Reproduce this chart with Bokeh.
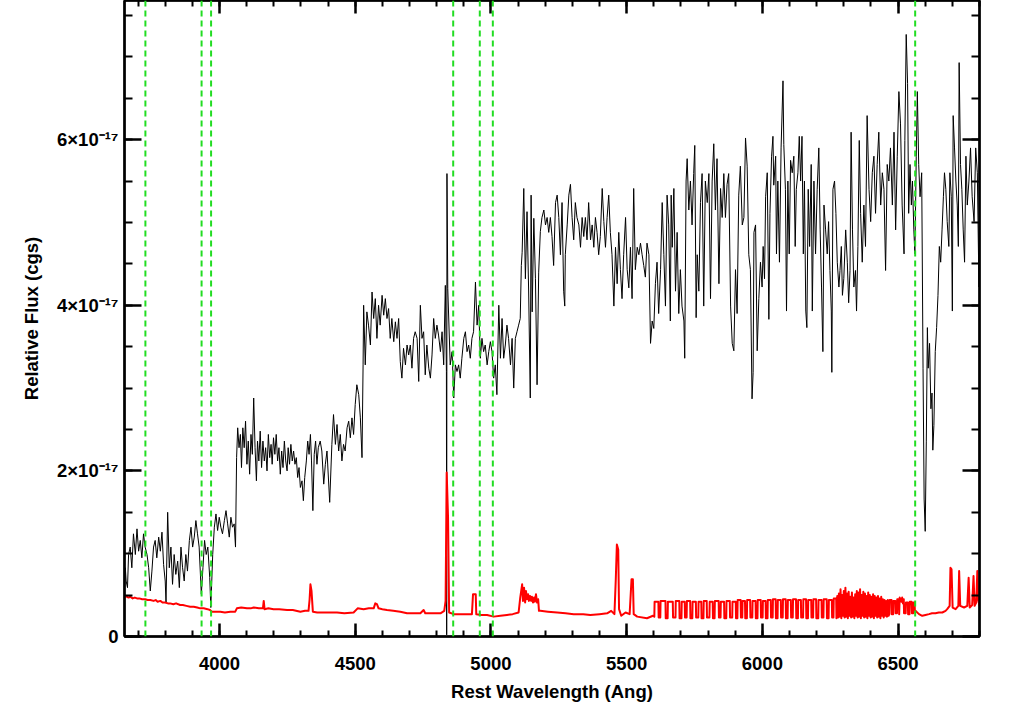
from bokeh.plotting import figure
from bokeh.models import Range1d, LinearAxis, FixedTicker, Span
from bokeh.embed import file_html
from bokeh.resources import INLINE

# ---------------- data (flux in units of 1e-17 cgs) ----------------
# black spectrum, segment 1 (3650-4364 A)
wave_obs_1 = [
    3650, 3653, 3656, 3661, 3665, 3671, 3677, 3683, 3690, 3696,
    3702, 3708, 3714, 3720, 3726, 3733, 3739, 3745, 3751, 3757,
    3763, 3769, 3776, 3782, 3788, 3794, 3800, 3803, 3809, 3815,
    3821, 3827, 3833, 3839, 3846, 3852, 3858, 3864, 3870, 3876,
    3882, 3889, 3895, 3901, 3907, 3913, 3919, 3925, 3933, 3939,
    3945, 3951, 3957, 3964, 3968, 3975, 3981, 3987, 3993, 3999,
    4005, 4011, 4018, 4024, 4030, 4036, 4042, 4048, 4054, 4059,
    4063, 4067, 4072, 4077, 4081, 4086, 4091, 4096, 4101, 4106,
    4111, 4116, 4121, 4126, 4131, 4136, 4140, 4145, 4150, 4155,
    4160, 4165, 4170, 4175, 4180, 4185, 4190, 4194, 4199, 4204,
    4209, 4214, 4219, 4224, 4229, 4234, 4239, 4244, 4249, 4253,
    4258, 4263, 4268, 4273, 4278, 4283, 4288, 4293, 4298, 4304,
    4309, 4314, 4320, 4325, 4330, 4335, 4339, 4344, 4349, 4354,
    4359, 4364,
]
flux_obs_1 = [
    0.59, 0.83, 0.67, 0.59, 0.99, 1.08, 0.83, 1.24, 0.99, 1.30,
    1.03, 1.16, 0.95, 1.24, 1.08, 0.99, 0.83, 0.55, 0.79, 1.08,
    1.16, 0.95, 1.20, 1.03, 1.26, 0.87, 0.67, 0.41, 1.50, 0.83,
    1.08, 0.63, 0.99, 0.75, 0.91, 0.59, 1.08, 0.83, 0.67, 0.99,
    0.79, 1.16, 1.32, 1.08, 1.20, 1.40, 1.24, 1.08, 0.51, 0.83,
    1.16, 0.99, 1.08, 0.71, 0.35, 0.99, 1.32, 1.48, 1.28, 1.44,
    1.32, 1.24, 1.40, 1.52, 1.36, 1.20, 1.44, 1.32, 1.36, 1.08,
    2.16, 2.52, 2.28, 2.44, 2.04, 2.52, 2.28, 2.60, 2.08, 2.36,
    1.96, 2.44, 2.20, 2.88, 2.28, 1.88, 2.36, 2.12, 2.48, 2.04,
    2.36, 2.12, 2.28, 2.00, 2.44, 2.16, 2.32, 2.08, 2.40, 2.20,
    2.44, 2.12, 2.28, 1.96, 2.24, 2.04, 2.36, 2.12, 2.00, 2.28,
    2.08, 2.32, 2.12, 2.24, 2.08, 2.16, 1.92, 2.04, 1.80, 1.88,
    1.64, 1.92, 2.12, 2.36, 2.20, 2.44, 2.12, 1.52, 2.20, 2.36,
    2.08, 2.28,
]
# black spectrum, segment 2 (4371-5182 A)
wave_obs_2 = [
    4371, 4377, 4384, 4390, 4396, 4406, 4414, 4420, 4427, 4433,
    4439, 4445, 4451, 4457, 4463, 4470, 4476, 4482, 4488, 4494,
    4500, 4506, 4513, 4519, 4525, 4529, 4531, 4537, 4543, 4549,
    4556, 4562, 4568, 4574, 4580, 4586, 4592, 4599, 4605, 4611,
    4617, 4623, 4629, 4635, 4642, 4648, 4654, 4660, 4666, 4672,
    4678, 4685, 4691, 4697, 4703, 4709, 4715, 4721, 4728, 4734,
    4740, 4746, 4752, 4758, 4764, 4771, 4777, 4783, 4789, 4795,
    4801, 4807, 4814, 4820, 4826, 4832, 4836, 4837, 4838, 4841,
    4850, 4857, 4863, 4869, 4875, 4881, 4887, 4893, 4900, 4906,
    4912, 4918, 4924, 4930, 4936, 4943, 4949, 4955, 4961, 4967,
    4973, 4979, 4986, 4992, 4998, 5004, 5010, 5016, 5022, 5029,
    5035, 5041, 5047, 5053, 5059, 5065, 5072, 5078, 5084, 5090,
    5096, 5102, 5108, 5112, 5115, 5121, 5127, 5133, 5139, 5145,
    5148, 5152, 5158, 5164, 5170, 5176, 5182,
]
flux_obs_2 = [
    2.36, 2.24, 1.84, 2.08, 2.24, 1.62, 2.32, 2.68, 2.32, 2.56,
    2.24, 2.44, 2.12, 2.32, 2.24, 2.52, 2.60, 2.40, 2.64, 2.44,
    2.80, 3.04, 2.92, 2.64, 2.16, 3.28, 4.00, 3.28, 3.92, 3.76,
    3.52, 4.16, 3.84, 4.08, 3.60, 4.00, 3.76, 4.12, 3.88, 4.08,
    3.84, 3.96, 3.60, 3.84, 3.56, 3.80, 3.60, 3.84, 3.32, 3.12,
    3.48, 3.28, 3.52, 3.40, 3.52, 3.24, 3.60, 3.68, 3.60, 3.08,
    4.00, 3.60, 3.68, 3.16, 3.52, 3.24, 3.12, 3.40, 3.84, 3.60,
    3.76, 3.64, 3.44, 3.68, 3.28, 4.24, 3.20, 0.02, 5.59, 4.20,
    3.28, 3.44, 2.88, 3.28, 3.20, 3.28, 3.12, 3.36, 3.60, 3.68,
    3.44, 3.52, 3.36, 3.60, 3.68, 4.28, 3.76, 4.00, 3.36, 3.60,
    3.44, 3.52, 3.28, 3.44, 3.56, 3.44, 3.12, 3.28, 2.92, 4.00,
    3.36, 3.84, 3.36, 3.52, 3.76, 3.60, 3.28, 3.60, 3.00, 3.60,
    3.68, 3.76, 3.84, 4.48, 4.64, 5.41, 4.32, 5.13, 4.16, 2.88,
    5.33, 3.92, 5.05, 4.32, 3.04, 4.40, 4.89,
]
# black spectrum, segment 3 (5188-5987 A)
wave_obs_3 = [
    5188, 5195, 5201, 5207, 5213, 5219, 5225, 5231, 5238, 5244,
    5250, 5256, 5262, 5268, 5272, 5274, 5281, 5287, 5293, 5299,
    5305, 5311, 5317, 5324, 5330, 5336, 5342, 5348, 5354, 5360,
    5367, 5373, 5379, 5385, 5391, 5397, 5403, 5410, 5416, 5422,
    5428, 5434, 5440, 5446, 5453, 5459, 5465, 5471, 5477, 5483,
    5489, 5496, 5502, 5508, 5514, 5520, 5526, 5532, 5539, 5545,
    5551, 5557, 5563, 5569, 5575, 5582, 5588, 5594, 5600, 5606,
    5612, 5618, 5625, 5631, 5637, 5643, 5649, 5655, 5661, 5664,
    5668, 5674, 5680, 5686, 5692, 5698, 5704, 5711, 5714, 5719,
    5723, 5729, 5735, 5741, 5747, 5751, 5756, 5760, 5766, 5772,
    5778, 5784, 5790, 5797, 5803, 5809, 5815, 5821, 5827, 5833,
    5840, 5846, 5852, 5858, 5864, 5870, 5876, 5883, 5889, 5895,
    5901, 5907, 5913, 5919, 5926, 5932, 5938, 5944, 5950, 5956,
    5962, 5966, 5969, 5975, 5981, 5987,
]
flux_obs_3 = [
    5.06, 5.15, 4.97, 5.06, 4.88, 5.06, 4.83, 4.48, 5.24, 5.33,
    5.06, 4.61, 5.24, 4.17, 3.99, 4.61, 4.97, 5.33, 5.46, 5.06,
    4.79, 5.24, 5.06, 4.97, 4.70, 5.06, 4.83, 5.06, 4.79, 5.24,
    4.79, 4.97, 4.70, 5.06, 4.88, 4.61, 4.83, 5.41, 5.01, 4.70,
    5.06, 5.33, 4.88, 4.61, 3.99, 4.70, 4.26, 4.88, 4.43, 4.08,
    4.61, 5.06, 4.43, 4.21, 4.70, 4.08, 5.41, 4.43, 4.70, 4.61,
    4.75, 4.61, 4.48, 4.34, 4.75, 4.61, 3.54, 3.81, 3.72, 4.26,
    4.52, 3.90, 4.43, 5.24, 4.61, 3.99, 5.33, 4.97, 3.81, 5.33,
    4.70, 5.41, 4.17, 4.88, 3.90, 4.43, 3.99, 3.81, 3.36, 5.50,
    5.77, 5.15, 5.50, 4.97, 5.59, 5.93, 3.85, 4.61, 4.17, 5.24,
    5.59, 3.99, 5.50, 5.24, 5.59, 4.08, 5.50, 5.95, 5.15, 5.77,
    4.26, 5.41, 5.06, 5.59, 5.06, 5.46, 5.59, 3.99, 3.54, 3.45,
    4.43, 3.90, 5.33, 5.68, 4.97, 5.06, 6.02, 5.68, 4.61, 4.43,
    2.87, 3.19, 4.88, 4.97, 3.45, 4.08,
]
# black spectrum, segment 4 (5993-6804 A)
wave_obs_4 = [
    5993, 5999, 6003, 6008, 6012, 6018, 6024, 6028, 6034, 6039,
    6042, 6049, 6052, 6057, 6063, 6069, 6076, 6079, 6085, 6089,
    6094, 6099, 6104, 6110, 6116, 6121, 6125, 6131, 6136, 6141,
    6146, 6151, 6155, 6160, 6164, 6169, 6174, 6180, 6184, 6190,
    6196, 6202, 6208, 6213, 6218, 6223, 6227, 6233, 6239, 6244,
    6249, 6254, 6256, 6260, 6266, 6271, 6276, 6282, 6286, 6291,
    6295, 6300, 6307, 6313, 6318, 6323, 6327, 6332, 6337, 6343,
    6347, 6352, 6357, 6362, 6368, 6374, 6380, 6386, 6393, 6399,
    6405, 6411, 6417, 6423, 6429, 6436, 6442, 6448, 6454, 6460,
    6466, 6472, 6479, 6485, 6491, 6497, 6503, 6509, 6515, 6522,
    6525, 6530, 6535, 6539, 6544, 6549, 6553, 6558, 6562, 6567,
    6571, 6576, 6581, 6587, 6592, 6596, 6600, 6604, 6608, 6611,
    6616, 6621, 6625, 6628, 6632, 6637, 6642, 6647, 6652, 6657,
    6662, 6667, 6671, 6676, 6681, 6687, 6691, 6696, 6700, 6703,
    6708, 6713, 6718, 6722, 6725, 6730, 6735, 6740, 6745, 6750,
    6755, 6761, 6767, 6773, 6780, 6786, 6792, 6798, 6804,
]
flux_obs_4 = [
    4.52, 4.22, 4.71, 4.32, 5.31, 5.60, 3.83, 5.11, 5.80, 6.04,
    5.45, 5.80, 4.62, 5.50, 4.52, 5.90, 6.71, 5.94, 5.40, 3.93,
    5.50, 4.62, 5.75, 5.60, 5.80, 4.71, 5.40, 5.60, 6.04, 5.50,
    6.04, 4.62, 5.50, 3.93, 3.73, 5.40, 4.71, 5.70, 3.93, 5.50,
    4.62, 5.40, 5.90, 4.91, 4.22, 3.44, 5.21, 4.91, 4.62, 5.01,
    4.42, 3.93, 3.19, 5.40, 5.50, 5.11, 4.52, 4.22, 4.42, 4.71,
    4.12, 4.32, 4.91, 4.52, 4.03, 4.42, 6.09, 4.91, 4.22, 4.42,
    3.93, 4.71, 5.99, 5.11, 4.52, 5.21, 4.71, 6.29, 5.40, 5.01,
    5.60, 5.80, 5.11, 5.70, 6.09, 5.21, 5.60, 5.40, 4.42, 5.70,
    5.50, 5.90, 5.21, 6.09, 4.91, 5.80, 6.58, 6.19, 5.21, 4.62,
    5.99, 7.27, 6.68, 5.11, 5.70, 5.21, 5.50, 4.91, 4.62, 5.80,
    6.58, 5.70, 5.31, 5.60, 3.24, 1.66, 1.27, 2.35, 3.73, 3.24,
    3.54, 2.75, 2.94, 2.25, 2.55, 3.44, 3.73, 4.12, 4.71, 4.52,
    4.91, 5.31, 5.60, 5.40, 5.01, 4.71, 5.60, 5.31, 3.93, 6.29,
    5.90, 5.50, 5.21, 4.71, 6.93, 5.70, 5.40, 4.91, 4.52, 5.80,
    5.21, 5.50, 5.90, 5.31, 5.01, 5.90, 5.60, 4.22, 5.70,
]

# red error spectrum
wave_err_1 = [
    3650, 3655, 3659, 3665, 3671, 3680, 3688, 3696, 3705, 3715,
    3726, 3735, 3745, 3757, 3765, 3772, 3782, 3790, 3800, 3810,
    3818, 3830, 3840, 3855, 3865, 3878, 3892, 3905, 3918, 3929,
    3942, 3956, 3965, 3972, 3985, 4003, 4020, 4040, 4058, 4064,
    4080, 4101, 4115, 4126, 4145, 4160, 4163, 4166, 4180, 4199,
    4220, 4249, 4270, 4298, 4315, 4328, 4332, 4335, 4339, 4344,
    4360,
]
flux_err_1 = [
    0.47, 0.49, 0.48, 0.47, 0.48, 0.46, 0.47, 0.46, 0.46, 0.45,
    0.45, 0.44, 0.44, 0.43, 0.44, 0.42, 0.43, 0.41, 0.41, 0.40,
    0.40, 0.39, 0.40, 0.38, 0.38, 0.37, 0.36, 0.36, 0.35, 0.34,
    0.34, 0.33, 0.32, 0.30, 0.30, 0.30, 0.29, 0.30, 0.30, 0.34,
    0.35, 0.34, 0.34, 0.35, 0.34, 0.34, 0.43, 0.33, 0.34, 0.33,
    0.33, 0.32, 0.32, 0.30, 0.31, 0.31, 0.45, 0.63, 0.55, 0.30,
    0.29,
]
wave_err_2 = [
    4371, 4400, 4433, 4460, 4494, 4509, 4531, 4550, 4568, 4574,
    4580, 4586, 4600, 4617, 4640, 4666, 4691, 4715, 4740, 4752,
    4758, 4785, 4814, 4828, 4833, 4837, 4842, 4846, 4863, 4895,
    4930, 4934, 4944, 4946, 4965, 4986, 5010, 5035, 5059, 5080,
    5102, 5108, 5115, 5118, 5122, 5126, 5129, 5133, 5137, 5140,
    5144, 5148, 5151, 5155, 5159, 5162, 5166, 5170, 5174, 5177,
    5182,
]
flux_err_2 = [
    0.29, 0.29, 0.29, 0.28, 0.29, 0.34, 0.33, 0.34, 0.34, 0.40,
    0.39, 0.34, 0.33, 0.32, 0.31, 0.30, 0.28, 0.28, 0.28, 0.32,
    0.28, 0.28, 0.28, 0.31, 0.43, 1.98, 1.44, 0.29, 0.27, 0.27,
    0.27, 0.51, 0.51, 0.27, 0.26, 0.26, 0.24, 0.25, 0.26, 0.27,
    0.29, 0.47, 0.63, 0.43, 0.59, 0.41, 0.55, 0.45, 0.51, 0.43,
    0.49, 0.43, 0.48, 0.41, 0.47, 0.42, 0.51, 0.41, 0.45, 0.31,
    0.31,
]
wave_err_3 = [
    5210, 5244, 5275, 5305, 5340, 5366, 5400, 5428, 5443, 5455,
    5460, 5464, 5469, 5472, 5480, 5496, 5511, 5518, 5523, 5526,
    5539, 5575, 5597,
]
flux_err_3 = [
    0.30, 0.29, 0.28, 0.27, 0.27, 0.26, 0.27, 0.28, 0.31, 0.27,
    0.69, 1.11, 1.05, 0.33, 0.25, 0.29, 0.27, 0.69, 0.69, 0.27,
    0.24, 0.22, 0.25,
]
wave_err_4 = [
    5602, 5603, 5617, 5618, 5624, 5625, 5643, 5644,
    5651, 5652, 5670, 5671, 5680, 5681, 5694, 5695,
    5702, 5703, 5714, 5715, 5721, 5722, 5734, 5735,
    5742, 5743, 5755, 5756, 5764, 5765, 5775, 5776,
    5783, 5784, 5795, 5796, 5805, 5806, 5817, 5818,
    5824, 5825, 5839, 5840, 5846, 5847, 5859, 5860,
    5867, 5868, 5880, 5881, 5889, 5890, 5902, 5903,
    5908, 5909, 5920, 5921, 5926, 5927, 5936, 5937,
    5943, 5944, 5955, 5956, 5963, 5964, 5975, 5976,
    5982, 5983, 5994, 5995, 6001, 6002, 6012, 6013,
    6019, 6020, 6031, 6032, 6038, 6039, 6049, 6050,
    6056, 6057, 6068, 6069, 6075, 6076, 6086, 6087,
    6093, 6094, 6105, 6106, 6112, 6113, 6124, 6125,
    6131, 6132, 6142, 6143, 6150, 6151, 6161, 6162,
    6168, 6169, 6180, 6181, 6187, 6188, 6198, 6199,
    6206, 6207, 6218, 6219, 6225, 6226, 6237, 6238,
    6244, 6245, 6256, 6257, 6262, 6263, 6272, 6273,
]
flux_err_4 = [
    0.24, 0.42, 0.42, 0.23, 0.23, 0.43, 0.43, 0.22,
    0.22, 0.42, 0.42, 0.23, 0.23, 0.43, 0.43, 0.22,
    0.22, 0.42, 0.42, 0.23, 0.23, 0.43, 0.43, 0.22,
    0.22, 0.42, 0.42, 0.23, 0.23, 0.42, 0.42, 0.22,
    0.22, 0.43, 0.43, 0.23, 0.23, 0.42, 0.42, 0.22,
    0.22, 0.43, 0.43, 0.23, 0.23, 0.42, 0.42, 0.22,
    0.22, 0.43, 0.43, 0.23, 0.23, 0.42, 0.42, 0.22,
    0.22, 0.44, 0.44, 0.23, 0.23, 0.43, 0.43, 0.22,
    0.22, 0.44, 0.44, 0.23, 0.23, 0.43, 0.43, 0.22,
    0.22, 0.44, 0.44, 0.23, 0.23, 0.43, 0.43, 0.22,
    0.22, 0.44, 0.44, 0.23, 0.23, 0.45, 0.45, 0.22,
    0.22, 0.44, 0.44, 0.23, 0.23, 0.45, 0.45, 0.22,
    0.22, 0.44, 0.44, 0.23, 0.23, 0.45, 0.45, 0.22,
    0.22, 0.44, 0.44, 0.23, 0.23, 0.45, 0.45, 0.22,
    0.22, 0.44, 0.44, 0.23, 0.23, 0.45, 0.45, 0.22,
    0.22, 0.44, 0.44, 0.23, 0.23, 0.45, 0.45, 0.22,
    0.22, 0.44, 0.44, 0.23, 0.23, 0.46, 0.46, 0.22,
]
wave_err_5 = [
    6276, 6279, 6282, 6285, 6288, 6291, 6294, 6297, 6300, 6303,
    6306, 6309, 6312, 6315, 6318, 6321, 6324, 6327, 6330, 6333,
    6336, 6339, 6342, 6345, 6348, 6351, 6354, 6357, 6360, 6363,
    6366, 6369, 6372, 6375, 6378, 6381, 6384, 6387, 6390, 6393,
    6396, 6399, 6402, 6405, 6408, 6411, 6414, 6417, 6420, 6423,
    6426, 6429, 6432, 6435, 6438, 6441, 6444, 6447, 6450, 6453,
    6456, 6459, 6462, 6465,
]
flux_err_5 = [
    0.49, 0.23, 0.52, 0.24, 0.57, 0.22, 0.50, 0.25, 0.55, 0.23,
    0.59, 0.24, 0.52, 0.22, 0.54, 0.25, 0.48, 0.23, 0.53, 0.24,
    0.47, 0.22, 0.51, 0.25, 0.55, 0.23, 0.53, 0.24, 0.57, 0.22,
    0.50, 0.25, 0.54, 0.23, 0.52, 0.24, 0.49, 0.22, 0.53, 0.25,
    0.50, 0.23, 0.48, 0.24, 0.51, 0.22, 0.49, 0.25, 0.47, 0.23,
    0.49, 0.24, 0.46, 0.22, 0.48, 0.25, 0.45, 0.23, 0.44, 0.25,
    0.43, 0.24, 0.44, 0.25,
]
wave_err_6 = [
    6468, 6469, 6476, 6477, 6482, 6483, 6490, 6491,
    6496, 6497, 6503, 6504, 6506, 6512, 6515, 6518, 6521, 6522,
    6528, 6529, 6536, 6537, 6542, 6543, 6550, 6551, 6556, 6557, 6561, 6562,
]
flux_err_6 = [
    0.27, 0.44, 0.44, 0.27, 0.27, 0.43, 0.43, 0.28,
    0.28, 0.45, 0.45, 0.27, 0.47, 0.42, 0.47, 0.40, 0.45, 0.28,
    0.28, 0.41, 0.41, 0.27, 0.27, 0.42, 0.42, 0.28, 0.28, 0.41, 0.41, 0.30,
]
wave_err_7 = [
    6564, 6577, 6589, 6601, 6614, 6625, 6638, 6650, 6663, 6675,
    6681, 6690, 6693, 6697, 6701, 6712, 6722, 6725, 6729, 6743,
    6755, 6760, 6764, 6773, 6778, 6782, 6788, 6792, 6795, 6800,
]
flux_err_7 = [
    0.31, 0.27, 0.25, 0.26, 0.27, 0.28, 0.28, 0.29, 0.29, 0.31,
    0.33, 0.37, 0.83, 0.81, 0.35, 0.33, 0.37, 0.79, 0.37, 0.35,
    0.37, 0.71, 0.35, 0.38, 0.73, 0.37, 0.41, 0.79, 0.45, 0.37,
]

# emission / absorption line markers (rest wavelengths, A)
line_waves = [3727, 3934, 3969, 4861, 4959, 5007, 6563]

x_ticks = [4000, 4500, 5000, 5500, 6000, 6500]
y_ticks = [0, 2, 4, 6]
y_tick_labels = ["0", "2\u00d710\u207b\u00b9\u2077", "4\u00d710\u207b\u00b9\u2077", "6\u00d710\u207b\u00b9\u2077"]

# ---------------- assemble ----------------
wave_obs = wave_obs_1 + wave_obs_2 + wave_obs_3 + wave_obs_4
flux_obs = flux_obs_1 + flux_obs_2 + flux_obs_3 + flux_obs_4
wave_err = wave_err_1 + wave_err_2 + wave_err_3 + wave_err_4 + wave_err_5 + wave_err_6 + wave_err_7
flux_err = flux_err_1 + flux_err_2 + flux_err_3 + flux_err_4 + flux_err_5 + flux_err_6 + flux_err_7
assert len(wave_obs) == len(flux_obs), (len(wave_obs), len(flux_obs))
assert len(wave_err) == len(flux_err), (len(wave_err), len(flux_err))

FONT = "Liberation Sans"
FS = "18.5px"

p = figure(width=1012, height=706, output_backend="svg", toolbar_location=None,
           x_range=Range1d(3650, 6800), y_range=Range1d(0, 7.68),
           min_border_left=124, min_border_right=33, min_border_top=0,
           min_border_bottom=70, background_fill_color="white",
           border_fill_color="white")
p.grid.visible = False
p.outline_line_color = "black"
p.outline_line_width = 2

x_ticker = FixedTicker(ticks=x_ticks, minor_ticks=list(range(3700, 6801, 100)))
y_ticker = FixedTicker(ticks=y_ticks, minor_ticks=[i * 0.5 for i in range(0, 16)])


def style_axis(ax, ticker, tin, mtin):
    ax.ticker = ticker
    ax.axis_line_width = 2.5
    ax.axis_line_color = "black"
    ax.major_tick_line_width = 2.5
    ax.minor_tick_line_width = 2
    ax.major_tick_out = 0
    ax.minor_tick_out = 0
    ax.major_tick_in = tin
    ax.minor_tick_in = mtin
    ax.major_label_text_font = FONT
    ax.major_label_text_font_style = "bold"
    ax.major_label_text_font_size = FS
    ax.major_label_text_color = "black"
    ax.axis_label_text_font = FONT
    ax.axis_label_text_font_style = "bold"
    ax.axis_label_text_font_size = FS
    ax.axis_label_text_color = "black"


xax = p.xaxis[0]
style_axis(xax, x_ticker, 13, 6)
xax.axis_label = "Rest Wavelength (Ang)"
xax.major_label_standoff = 20
xax.axis_label_standoff = 8

yax = p.yaxis[0]
style_axis(yax, y_ticker, 17, 8)
yax.axis_label = "Relative Flux (cgs)"
yax.major_label_overrides = {t: s for t, s in zip(y_ticks, y_tick_labels)}
yax.major_label_standoff = 6
yax.axis_label_standoff = 12

top = LinearAxis()
style_axis(top, x_ticker, 13, 6)
top.major_label_overrides = {t: "" for t in x_ticks}
top.major_label_text_font_size = "0px"
top.major_label_standoff = 0
p.add_layout(top, "above")

right = LinearAxis()
style_axis(right, y_ticker, 17, 8)
right.major_label_overrides = {t: "" for t in y_ticks}
right.major_label_text_font_size = "0px"
right.major_label_standoff = 0
p.add_layout(right, "right")

p.line(wave_obs, flux_obs, line_color="black", line_width=1)
p.line(wave_err, flux_err, line_color="#ff0000", line_width=2, line_join="round")

for w in line_waves:
    p.add_layout(Span(location=w, dimension="height", line_color="#22dd22",
                      line_width=2, line_dash="6 4"))

open("out.html", "w").write(file_html(p, INLINE))
